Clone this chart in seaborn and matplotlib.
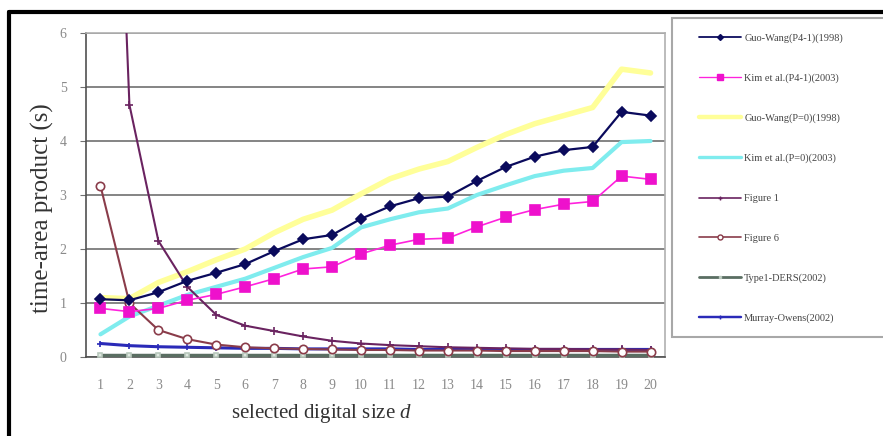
import numpy as np
import pandas as pd
import matplotlib
matplotlib.use("Agg")
import matplotlib.pyplot as plt
from matplotlib.lines import Line2D
from matplotlib.patches import Rectangle
import seaborn as sns

# selected digital size d
d = list(range(1, 21))

guo_wang_p41 = [1.07, 1.05, 1.20, 1.41, 1.56, 1.72, 1.96, 2.18, 2.26, 2.56,
                2.79, 2.94, 2.97, 3.26, 3.52, 3.71, 3.83, 3.89, 4.54, 4.47]
kim_p41 = [0.90, 0.84, 0.90, 1.05, 1.16, 1.30, 1.45, 1.63, 1.67, 1.91,
           2.07, 2.18, 2.20, 2.41, 2.59, 2.73, 2.83, 2.88, 3.35, 3.29]
guo_wang_p0 = [1.10, 1.08, 1.38, 1.58, 1.80, 2.00, 2.30, 2.55, 2.72, 3.02,
               3.30, 3.48, 3.62, 3.88, 4.12, 4.32, 4.47, 4.62, 5.33, 5.26]
kim_p0 = [0.42, 0.75, 0.95, 1.15, 1.30, 1.45, 1.65, 1.85, 2.02, 2.40,
          2.55, 2.68, 2.75, 3.00, 3.18, 3.35, 3.45, 3.50, 3.98, 4.00]
figure_1 = [18.0, 4.67, 2.15, 1.30, 0.78, 0.58, 0.48, 0.38, 0.30, 0.25,
            0.22, 0.20, 0.18, 0.17, 0.16, 0.15, 0.15, 0.14, 0.14, 0.13]
figure_6 = [3.17, 1.00, 0.50, 0.33, 0.23, 0.18, 0.16, 0.15, 0.14, 0.13,
            0.13, 0.12, 0.12, 0.12, 0.11, 0.11, 0.11, 0.11, 0.10, 0.10]
type1_ders = [0.03, 0.03, 0.03, 0.03, 0.03, 0.03, 0.03, 0.03, 0.03, 0.03,
              0.03, 0.03, 0.03, 0.03, 0.03, 0.03, 0.03, 0.03, 0.03, 0.03]
murray_owens = [0.25, 0.21, 0.19, 0.18, 0.17, 0.16, 0.16, 0.15, 0.15, 0.15,
                0.15, 0.14, 0.14, 0.14, 0.14, 0.14, 0.14, 0.14, 0.14, 0.14]

labels = ["Guo-Wang(P4-1)(1998)", "Kim et al.(P4-1)(2003)",
          "Guo-Wang(P=0)(1998)", "Kim et al.(P=0)(2003)",
          "Figure 1", "Figure 6", "Type1-DERS(2002)", "Murray-Owens(2002)"]
y_ticks = [0, 1, 2, 3, 4, 5, 6]

series = [guo_wang_p41, kim_p41, guo_wang_p0, kim_p0,
          figure_1, figure_6, type1_ders, murray_owens]

styles = [
    dict(color="#0a0a5c", lw=1.6, marker="D", ms=5, mfc="#0a0a5c", mec="#0a0a5c", zorder=9),
    dict(color="#ff22dd", lw=1.2, marker="s", ms=7, mfc="#ee11cc", mec="#ee11cc", zorder=8),
    dict(color="#ffff99", lw=4.0, marker=None, ms=0, mfc="none", mec="none", zorder=3),
    dict(color="#7fecee", lw=3.0, marker=None, ms=0, mfc="none", mec="none", zorder=4),
    dict(color="#6a2360", lw=1.5, marker="+", ms=6, mfc="#6a2360", mec="#6a2360", zorder=7),
    dict(color="#8a3c4a", lw=1.5, marker="o", ms=6, mfc="white", mec="#8a3c4a", zorder=7),
    dict(color="#5a6e62", lw=2.5, marker="s", ms=3.5, mfc="#dfe8e0", mec="#b8c8bc", zorder=5),
    dict(color="#2a2ab8", lw=2.2, marker="+", ms=5, mfc="#2a2ab8", mec="#2a2ab8", zorder=6),
]

sns.set_style("white")
plt.rcParams["font.family"] = ["Liberation Serif", "DejaVu Serif"]
plt.rcParams["mathtext.fontset"] = "custom"
plt.rcParams["mathtext.rm"] = "Liberation Serif"
plt.rcParams["mathtext.it"] = "Liberation Serif:italic"

fig = plt.figure(figsize=(8.83, 4.36), dpi=100)
W, H = 883, 436
ax = fig.add_axes([86 / W, 1 - 357 / H, (665 - 86) / W, (357 - 33) / H])

handles = []
for vals, lab, st in zip(series, labels, styles):
    df = pd.DataFrame({"d": d, "v": vals})
    sns.lineplot(data=df, x="d", y="v", ax=ax, color=st["color"], linewidth=st["lw"],
                 marker=st["marker"], markersize=st["ms"], markerfacecolor=st["mfc"],
                 markeredgecolor=st["mec"], markeredgewidth=1.2, zorder=st["zorder"],
                 clip_on=True)
    handles.append(Line2D([], [], color=st["color"], lw=st["lw"] * 0.8,
                          marker=st["marker"], ms=st["ms"] * 0.6,
                          mfc=st["mfc"], mec=st["mec"]))

ax.set_xlim(0.5, 20.5)
ax.set_ylim(0, 6)
ax.set_xticks(d)
ax.set_xticklabels([str(v) for v in d])
ax.set_yticks(y_ticks)
ax.set_yticklabels([str(v) for v in y_ticks])
ax.grid(axis="y", color="#707070", lw=1.2)
ax.set_axisbelow(True)
for side in ["top", "right"]:
    ax.spines[side].set_color("#b0b0b0")
    ax.spines[side].set_linewidth(1.2)
for side in ["left", "bottom"]:
    ax.spines[side].set_color("#505050")
    ax.spines[side].set_linewidth(1.2)
ax.tick_params(axis="x", length=0, pad=16, labelsize=10, labelcolor="#8a8a8a")
ax.tick_params(axis="y", length=4, color="#707070", pad=10, labelsize=10, labelcolor="#8a8a8a",
               left=True)
ax.set_xlabel("selected digital size $\\mathit{d}$", fontsize=15, color="#333333")
ax.set_ylabel("time-area product (s)", fontsize=18, color="#333333")
ax.xaxis.set_label_coords((322 - 86) / (665 - 86), -(413 - 357) / (357 - 33), transform=ax.transAxes)
ax.yaxis.set_label_coords(-(86 - 42) / (665 - 86), (357 - 208) / (357 - 33), transform=ax.transAxes)
ax.xaxis.label.set_va("center")
ax.yaxis.label.set_va("center")

# outer frame (left and top edges)
fig.add_artist(Line2D([9 / W, 9 / W], [0, 1 - 12 / H], color="black", lw=3,
                      transform=fig.transFigure))
fig.add_artist(Line2D([9 / W, 1], [1 - 12 / H, 1 - 12 / H], color="black", lw=3,
                      transform=fig.transFigure))

# legend box
fig.add_artist(Rectangle((672 / W, 1 - 337 / H), (W - 672) / W + 0.01, (337 - 18) / H,
                         transform=fig.transFigure, facecolor="white",
                         edgecolor="#a8a8a8", lw=1.5))
leg = fig.legend(handles, labels, loc="upper left",
                 bbox_to_anchor=(690 / W, 1 - 24 / H), frameon=False,
                 fontsize=7.5, labelspacing=2.93, handlelength=4.0, handletextpad=0.3,
                 labelcolor="#444444")

fig.savefig("out.png", dpi=100)
